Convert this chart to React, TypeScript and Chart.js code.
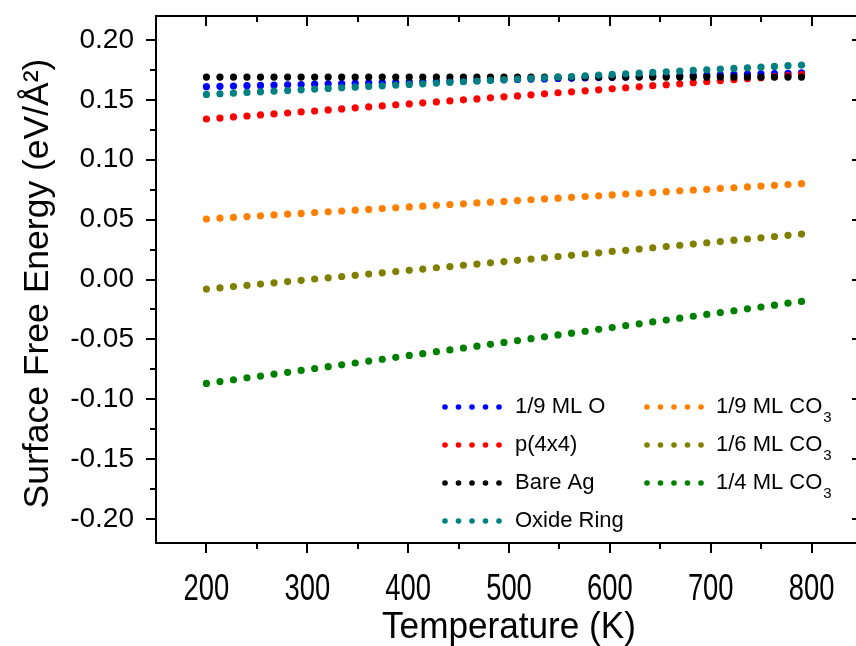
import React, { useEffect, useRef } from "react";
import { Chart, registerables } from "chart.js";

Chart.register(...registerables);

// Temperatures (K) at which each surface free energy was evaluated
const temperatureK = [
  200.0, 213.4, 226.8, 240.2, 253.6, 267.0, 280.5, 293.9, 307.3, 320.7,
  334.1, 347.5, 360.9, 374.3, 387.7, 401.1, 414.5, 428.0, 441.4, 454.8,
  468.2, 481.6, 495.0, 508.4, 521.8, 535.2, 548.6, 562.0, 575.5, 588.9,
  602.3, 615.7, 629.1, 642.5, 655.9, 669.3, 682.7, 696.1, 709.5, 723.0,
  736.4, 749.8, 763.2, 776.6, 790.0,
];

// Surface free energies, eV/Å²
const oneNinthO = [
  0.1610, 0.1613, 0.1615, 0.1618, 0.1620, 0.1623, 0.1626, 0.1628, 0.1631, 0.1634,
  0.1636, 0.1639, 0.1641, 0.1644, 0.1647, 0.1649, 0.1652, 0.1654, 0.1657, 0.1660,
  0.1662, 0.1665, 0.1667, 0.1670, 0.1673, 0.1675, 0.1678, 0.1680, 0.1683, 0.1686,
  0.1688, 0.1691, 0.1694, 0.1696, 0.1699, 0.1701, 0.1704, 0.1707, 0.1709, 0.1712,
  0.1714, 0.1717, 0.1720, 0.1722, 0.1725,
];

const p4x4 = [
  0.1340, 0.1348, 0.1357, 0.1365, 0.1374, 0.1382, 0.1390, 0.1399, 0.1407, 0.1416,
  0.1424, 0.1433, 0.1441, 0.1449, 0.1458, 0.1466, 0.1475, 0.1483, 0.1491, 0.1500,
  0.1508, 0.1517, 0.1525, 0.1533, 0.1542, 0.1550, 0.1559, 0.1567, 0.1575, 0.1584,
  0.1592, 0.1601, 0.1609, 0.1618, 0.1626, 0.1634, 0.1643, 0.1651, 0.1660, 0.1668,
  0.1676, 0.1685, 0.1693, 0.1702, 0.1710,
];

const bareAg = [
  0.1690, 0.1690, 0.1690, 0.1690, 0.1690, 0.1690, 0.1690, 0.1690, 0.1690, 0.1690,
  0.1690, 0.1690, 0.1690, 0.1690, 0.1690, 0.1690, 0.1690, 0.1690, 0.1690, 0.1690,
  0.1690, 0.1690, 0.1690, 0.1690, 0.1690, 0.1690, 0.1690, 0.1690, 0.1690, 0.1690,
  0.1690, 0.1690, 0.1690, 0.1690, 0.1690, 0.1690, 0.1690, 0.1690, 0.1690, 0.1690,
  0.1690, 0.1690, 0.1690, 0.1690, 0.1690,
];

const oxideRing = [
  0.1545, 0.1551, 0.1556, 0.1562, 0.1567, 0.1573, 0.1578, 0.1584, 0.1590, 0.1595,
  0.1601, 0.1606, 0.1612, 0.1617, 0.1623, 0.1629, 0.1634, 0.1640, 0.1645, 0.1651,
  0.1656, 0.1662, 0.1668, 0.1673, 0.1679, 0.1684, 0.1690, 0.1695, 0.1701, 0.1707,
  0.1712, 0.1718, 0.1723, 0.1729, 0.1734, 0.1740, 0.1746, 0.1751, 0.1757, 0.1762,
  0.1768, 0.1773, 0.1779, 0.1785, 0.1790,
];

const oneNinthCO3 = [
  0.0505, 0.0512, 0.0518, 0.0525, 0.0532, 0.0539, 0.0545, 0.0552, 0.0559, 0.0565,
  0.0572, 0.0579, 0.0585, 0.0592, 0.0599, 0.0606, 0.0612, 0.0619, 0.0626, 0.0632,
  0.0639, 0.0646, 0.0652, 0.0659, 0.0666, 0.0673, 0.0679, 0.0686, 0.0693, 0.0699,
  0.0706, 0.0713, 0.0719, 0.0726, 0.0733, 0.0740, 0.0746, 0.0753, 0.0760, 0.0766,
  0.0773, 0.0780, 0.0786, 0.0793, 0.0800,
];

const oneSixthCO3 = [
  -0.0080, -0.0070, -0.0059, -0.0049, -0.0038, -0.0028, -0.0017, -0.0007, 0.0004, 0.0014,
  0.0025, 0.0035, 0.0045, 0.0056, 0.0066, 0.0077, 0.0087, 0.0098, 0.0108, 0.0119,
  0.0129, 0.0139, 0.0150, 0.0160, 0.0171, 0.0181, 0.0192, 0.0202, 0.0213, 0.0223,
  0.0234, 0.0244, 0.0254, 0.0265, 0.0275, 0.0286, 0.0296, 0.0307, 0.0317, 0.0328,
  0.0338, 0.0348, 0.0359, 0.0369, 0.0380,
];

const oneQuarterCO3 = [
  -0.0868, -0.0852, -0.0837, -0.0821, -0.0806, -0.0790, -0.0775, -0.0759, -0.0743, -0.0728,
  -0.0712, -0.0697, -0.0681, -0.0666, -0.0650, -0.0634, -0.0619, -0.0603, -0.0588, -0.0572,
  -0.0557, -0.0541, -0.0525, -0.0510, -0.0494, -0.0479, -0.0463, -0.0448, -0.0432, -0.0416,
  -0.0401, -0.0385, -0.0370, -0.0354, -0.0339, -0.0323, -0.0307, -0.0292, -0.0276, -0.0261,
  -0.0245, -0.0230, -0.0214, -0.0198, -0.0183,
];

const xMajorTicks = [200, 300, 400, 500, 600, 700, 800];
const xMinorTicks = [250, 350, 450, 550, 650, 750];
const yMajorTicks = [-0.2, -0.15, -0.1, -0.05, 0, 0.05, 0.1, 0.15, 0.2];
const yMinorTicks = [-0.175, -0.125, -0.075, -0.025, 0.025, 0.075, 0.125, 0.175];

const xTitle = "Temperature (K)";
const yTitle = "Surface Free Energy (eV/Å²)";

const FONT = "'Liberation Sans', Arial, Helvetica, sans-serif";

type Series = { label: string; sub: string; color: string; values: number[] };

const series: Series[] = [
  { label: "1/9 ML O", sub: "", color: "#0000FF", values: oneNinthO },
  { label: "p(4x4)", sub: "", color: "#FF0000", values: p4x4 },
  { label: "Bare Ag", sub: "", color: "#000000", values: bareAg },
  { label: "Oxide Ring", sub: "", color: "#008080", values: oxideRing },
  { label: "1/9 ML CO", sub: "3", color: "#FF8000", values: oneNinthCO3 },
  { label: "1/6 ML CO", sub: "3", color: "#808000", values: oneSixthCO3 },
  { label: "1/4 ML CO", sub: "3", color: "#008000", values: oneQuarterCO3 },
];

// Frame with tick marks: outward on bottom/left, inward on top/right
const frameTicks = {
  id: "frameTicks",
  afterDraw(chart: any) {
    const { ctx, chartArea: a, scales } = chart;
    const x = scales.x;
    const y = scales.y;
    ctx.save();
    ctx.strokeStyle = "#000";
    ctx.lineWidth = 2;
    const seg = (x1: number, y1: number, x2: number, y2: number) => {
      ctx.beginPath();
      ctx.moveTo(x1, y1);
      ctx.lineTo(x2, y2);
      ctx.stroke();
    };
    seg(a.left - 1, a.top, a.right, a.top);
    seg(a.left, a.top, a.left, a.bottom);
    seg(a.left - 1, a.bottom, a.right, a.bottom);
    const xt = (vals: number[], len: number) => {
      vals.forEach((v) => {
        const px = Math.round(x.getPixelForValue(v));
        seg(px, a.bottom, px, a.bottom + len);
        seg(px, a.top, px, a.top + len);
      });
    };
    const yt = (vals: number[], len: number) => {
      vals.forEach((v) => {
        const py = Math.round(y.getPixelForValue(v));
        seg(a.left - len, py, a.left, py);
        seg(a.right - len, py, a.right, py);
      });
    };
    xt(xMajorTicks, 10);
    xt(xMinorTicks, 6);
    yt(yMajorTicks, 10);
    yt(yMinorTicks, 6);
    ctx.restore();
  },
};

// Axis titles and condensed x-axis tick labels
const axisText = {
  id: "axisText",
  afterDraw(chart: any) {
    const { ctx, chartArea: a, scales } = chart;
    const x = scales.x;
    ctx.save();
    ctx.fillStyle = "#000";
    ctx.textAlign = "center";
    ctx.textBaseline = "alphabetic";
    ctx.font = `36px ${FONT}`;
    xMajorTicks.forEach((v) => {
      ctx.save();
      ctx.translate(x.getPixelForValue(v), a.bottom + 57);
      ctx.scale(0.76, 1);
      ctx.fillText(String(v), 0, 0);
      ctx.restore();
    });

    ctx.save();
    ctx.font = `37px ${FONT}`;
    ctx.translate((a.left + a.right) / 2, 638);
    ctx.scale(0.95, 1);
    ctx.fillText(xTitle, 0, 0);
    ctx.restore();

    ctx.save();
    ctx.font = `35.5px ${FONT}`;
    ctx.translate(48, (a.top + a.bottom) / 2 + 4);
    ctx.rotate(-Math.PI / 2);
    ctx.fillText(yTitle, 0, 0);
    ctx.restore();

    ctx.restore();
  },
};

// Two-column legend with dotted swatches and subscripted formulas
const dottedLegend = {
  id: "dottedLegend",
  afterDraw(chart: any) {
    const { ctx } = chart;
    const columns = [
      { dotX: 445, textX: 515, items: series.slice(0, 4) },
      { dotX: 647, textX: 716, items: series.slice(4) },
    ];
    const rowY = [407, 445, 483, 521];
    ctx.save();
    ctx.textBaseline = "middle";
    ctx.textAlign = "left";
    columns.forEach((col) => {
      col.items.forEach((s, i) => {
        const cy = rowY[i];
        ctx.fillStyle = s.color;
        for (let k = 0; k < 5; k++) {
          ctx.beginPath();
          ctx.arc(col.dotX + k * 13.5, cy, 2.8, 0, Math.PI * 2);
          ctx.fill();
        }
        ctx.fillStyle = "#000";
        ctx.font = `22px ${FONT}`;
        ctx.fillText(s.label, col.textX, cy);
        if (s.sub) {
          const w = ctx.measureText(s.label).width;
          ctx.font = `15px ${FONT}`;
          ctx.fillText(s.sub, col.textX + w + 1, cy + 11);
        }
      });
    });
    ctx.restore();
  },
};

export default function App() {
  const ref = useRef<HTMLCanvasElement | null>(null);

  useEffect(() => {
    if (!ref.current) return;
    const chart = new Chart(ref.current, {
      type: "scatter",
      data: {
        datasets: series.map((s, i) => ({
          label: s.label + s.sub,
          data: temperatureK.map((t, j) => ({ x: t, y: s.values[j] })),
          backgroundColor: s.color,
          borderColor: s.color,
          pointRadius: 3.6,
          pointBorderWidth: 0,
          showLine: false,
          order: series.length - i,
        })),
      },
      options: {
        responsive: false,
        animation: false,
        devicePixelRatio: 1,
        layout: { padding: { top: 16, right: 8, left: 0, bottom: 0 } },
        plugins: { legend: { display: false }, tooltip: { enabled: false } },
        scales: {
          x: {
            type: "linear",
            min: 150,
            max: 850,
            grid: { display: false },
            border: { display: false },
            afterBuildTicks: (s: any) => {
              s.ticks = xMajorTicks.map((v) => ({ value: v }));
            },
            afterFit: (s: any) => {
              s.height = 103;
              s.paddingLeft = 0;
              s.paddingRight = 0;
            },
            ticks: { display: false },
            title: { display: false, text: xTitle },
          },
          y: {
            type: "linear",
            min: -0.22,
            max: 0.22,
            grid: { display: false },
            border: { display: false },
            afterBuildTicks: (s: any) => {
              s.ticks = yMajorTicks.map((v) => ({ value: v }));
            },
            afterFit: (s: any) => {
              s.width = 156;
              s.paddingTop = 0;
              s.paddingBottom = 0;
            },
            ticks: {
              color: "#000",
              padding: 14,
              font: { family: FONT, size: 28, lineHeight: 1 },
              callback: (v: any) => Number(v).toFixed(2),
            },
            title: { display: false, text: yTitle },
          },
        },
      },
      plugins: [frameTicks, axisText, dottedLegend],
    });
    return () => chart.destroy();
  }, []);

  return (
    <div
      style={{
        position: "fixed",
        left: 0,
        top: 0,
        width: 856,
        height: 646,
        overflow: "hidden",
        background: "#fff",
      }}
    >
      <canvas ref={ref} width={870} height={646} style={{ width: 870, height: 646, display: "block" }} />
    </div>
  );
}
